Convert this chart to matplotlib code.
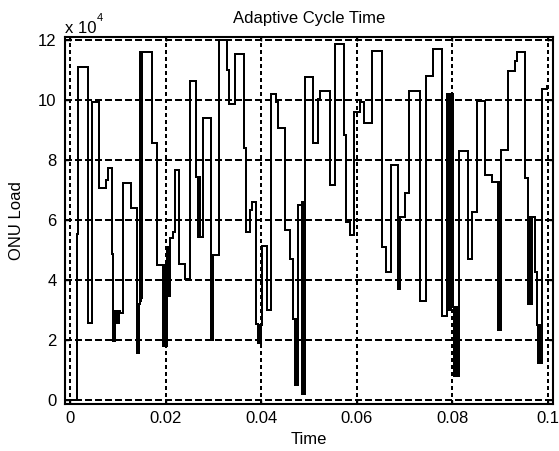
"""
Adaptive cycle time: ONU load as a step trace over 0.1 s
"""

import matplotlib
matplotlib.use('Agg')  # no display
import matplotlib.pyplot as plt

plt.rcParams['font.family'] = ['Liberation Sans', 'DejaVu Sans']
plt.rcParams['lines.scale_dashes'] = False

# Step start times (ms) and ONU load (x 10^4).
# Runs of short alternating steps are the fast-switching (solid black) parts.
time_ms = [
    0.00, 1.40, 1.74, 3.83, 4.67, 6.13, 7.47, 7.89, 8.72, 8.93,
    9.41, 9.62, 9.83, 10.04, 10.25, 10.46, 11.15, 12.76, 13.95, 14.44,
    14.60, 14.75, 14.90, 15.02, 15.12, 17.22, 18.14, 19.52, 19.71, 19.87,
    20.04, 20.17, 20.29, 20.46, 20.63, 20.79, 20.98, 21.61, 21.97, 22.87,
    24.06, 25.10, 26.36, 26.84, 27.01, 27.18, 27.76, 29.44, 29.60, 29.77,
    29.98, 31.10, 32.78, 33.33, 34.52, 36.40, 36.82, 37.66, 38.01, 38.91,
    39.33, 39.54, 39.75, 39.96, 40.17, 41.15, 41.99, 43.10, 43.58, 44.98,
    46.03, 46.72, 46.97, 47.13, 47.30, 47.47, 47.64, 47.80, 48.47, 48.62,
    48.77, 48.91, 49.04, 49.16, 50.90, 51.95, 52.30, 54.39, 55.44, 57.38,
    57.74, 58.58, 59.48, 60.67, 61.51, 63.18, 65.21, 66.11, 67.15, 68.56,
    68.72, 68.89, 69.04, 70.08, 70.92, 73.22, 74.48, 75.88, 77.76, 78.81,
    78.97, 79.14, 79.31, 79.48, 79.64, 79.81, 80.19, 80.38, 80.54, 80.71,
    80.88, 81.05, 81.44, 83.33, 84.04, 85.21, 86.82, 88.22, 89.60, 89.77,
    89.94, 90.10, 91.69, 93.10, 93.58, 95.19, 95.88, 96.05, 96.21, 96.38,
    96.55, 96.72, 97.28, 97.76, 97.97, 98.14, 98.30, 98.47, 98.58, 98.68,
    99.73, 100.00,
]
load_1e4 = [
    0.00, 5.55, 11.10, 2.58, 9.95, 7.06, 7.34, 7.73, 4.87, 1.96,
    2.97, 2.58, 2.97, 2.58, 2.97, 2.90, 7.23, 6.39, 1.57, 3.20,
    11.60, 3.30, 11.60, 3.40, 11.60, 8.57, 4.50, 1.80, 4.50, 1.80,
    4.50, 1.80, 5.10, 3.47, 5.10, 3.47, 5.40, 5.60, 7.67, 4.54,
    4.03, 10.64, 7.45, 5.43, 7.45, 5.43, 9.41, 2.00, 4.80, 2.00,
    4.82, 12.00, 11.00, 9.88, 11.54, 8.40, 5.60, 6.33, 6.61, 2.52,
    1.90, 2.50, 1.90, 2.50, 5.15, 3.00, 10.20, 9.92, 9.08, 5.66,
    4.70, 2.69, 0.50, 2.70, 0.50, 2.70, 0.50, 6.50, 0.20, 6.60,
    0.20, 6.60, 0.20, 10.76, 8.57, 10.03, 10.30, 7.17, 11.88, 8.85,
    5.94, 5.49, 9.60, 9.92, 9.24, 11.65, 5.10, 4.26, 7.84, 3.70,
    5.94, 3.70, 6.10, 6.89, 10.30, 3.30, 10.80, 11.71, 2.80, 10.20,
    3.00, 10.20, 3.00, 10.20, 3.00, 10.20, 3.10, 0.80, 3.10, 0.80,
    3.10, 0.80, 8.29, 4.70, 6.27, 9.97, 7.50, 7.28, 2.35, 7.28,
    2.35, 8.35, 10.98, 11.30, 11.60, 7.40, 3.20, 6.10, 3.20, 6.10,
    3.20, 6.10, 4.26, 2.50, 1.23, 2.50, 1.23, 2.50, 1.23, 10.36,
    10.48, 10.48,
]

x_ticks = [0, 0.02, 0.04, 0.06, 0.08, 0.1]
x_tick_labels = ['0', '0.02', '0.04', '0.06', '0.08', '0.1']
y_ticks = [0, 2, 4, 6, 8, 10, 12]

time_s = [t / 1000.0 for t in time_ms]

fig = plt.figure(figsize=(5.59, 4.51), dpi=100, facecolor='white')
ax = fig.add_axes([65 / 559, 1 - 404 / 451, 488 / 559, 367 / 451])

ax.step(time_s, load_1e4, where='post', color='black', linewidth=1.4,
        antialiased=False, zorder=3)

# Axis range padded a little so the 0/12 and 0/0.1 grid lines sit inside the box
ax.set_xlim(-0.00105, 0.10105)
ax.set_ylim(-0.133, 12.1)
ax.set_xticks(x_ticks)
ax.set_xticklabels(x_tick_labels)
ax.set_yticks(y_ticks)

ax.tick_params(axis='both', direction='in', length=3, width=1, colors='black',
               labelsize=12, top=True, right=True)
ax.tick_params(axis='x', pad=5)
ax.tick_params(axis='y', pad=6)

# MATLAB-style dashed grid
ax.xaxis.grid(True, color='black', linewidth=1.4, linestyle=(0, (2.8, 2.2)), antialiased=False)
ax.yaxis.grid(True, color='black', linewidth=1.3, linestyle=(0, (5, 2.4)), antialiased=False)
ax.set_axisbelow(True)

for spine in ax.spines.values():
    spine.set_linewidth(1.5)
    spine.set_color('black')

ax.set_title('Adaptive Cycle Time', fontsize=12, pad=10)
ax.set_xlabel('Time', fontsize=12, labelpad=4)
ax.set_ylabel('ONU Load', fontsize=12, labelpad=10)

# exponent note above the y axis
fig.text(65 / 559, 1 - 33 / 451, 'x 10', fontsize=12, ha='left', va='baseline')
fig.text(97 / 559, 1 - 21 / 451, '4', fontsize=8, ha='left', va='baseline')

fig.savefig('out.png', dpi=100, facecolor='white')
plt.close(fig)
